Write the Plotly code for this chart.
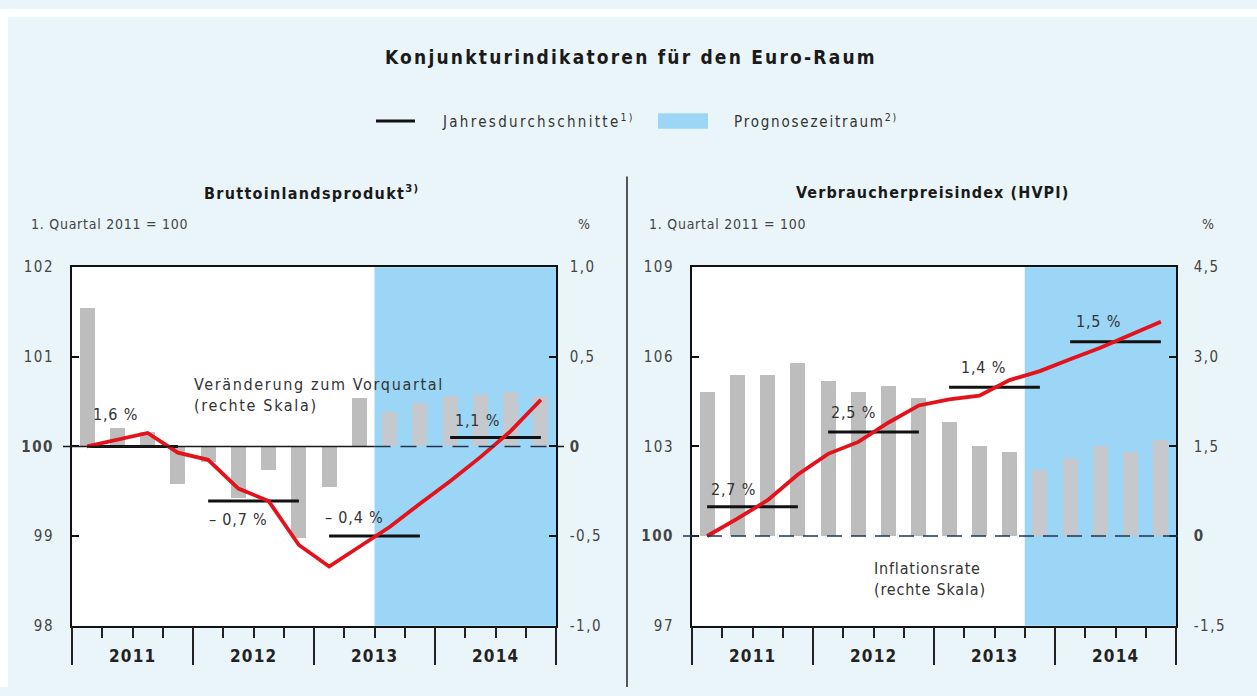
import plotly.graph_objects as go

W, H = 1257, 696


def px(x):
    return x / W


def py(y):
    return 1 - y / H


# ---------------- data ----------------
quarters = list(range(16))
years = ["2011", "2012", "2013", "2014"]

gdp_qoq = [0.77, 0.1, 0.08, -0.21, -0.09, -0.29, -0.13, -0.51, -0.23, 0.27,
           0.19, 0.24, 0.28, 0.29, 0.30, 0.28]
gdp_index = [100.0, 100.08, 100.15, 99.93, 99.85, 99.53, 99.39, 98.90, 98.66,
             98.88, 99.10, 99.36, 99.61, 99.88, 100.17, 100.52]
gdp_avg = [100.0, 99.39, 99.0, 100.1]
gdp_avg_labels = ["1,6 %", "– 0,7 %", "– 0,4 %", "1,1 %"]
gdp_forecast_start = 10

hicp_rate = [2.4, 2.7, 2.7, 2.9, 2.6, 2.4, 2.5, 2.3, 1.9, 1.5, 1.4, 1.1,
             1.3, 1.5, 1.4, 1.6]
hicp_index = [100.0, 100.58, 101.2, 102.06, 102.75, 103.15, 103.8, 104.37,
              104.57, 104.7, 105.22, 105.52, 105.92, 106.3, 106.74, 107.17]
hicp_avg = [100.98, 103.48, 104.98, 106.5]
hicp_avg_labels = ["2,7 %", "2,5 %", "1,4 %", "1,5 %"]
hicp_forecast_start = 11

gdp_left_ticks = [98, 99, 100, 101, 102]
gdp_right_ticks = [-1.0, -0.5, 0, 0.5, 1.0]
gdp_right_text = ["-1,0", "-0,5", "0", "0,5", "1,0"]
hicp_left_ticks = [97, 100, 103, 106, 109]
hicp_right_ticks = [-1.5, 0, 1.5, 3.0, 4.5]
hicp_right_text = ["-1,5", "0", "1,5", "3,0", "4,5"]

# ---------------- style ----------------
FONT = "Liberation Sans Narrow, DejaVu Sans Condensed, Liberation Sans, Arial, sans-serif"
BG = "#eaf5fa"
BLUE = "#9bd6f7"
GREY = "#bdbdbd"
GREY_FC = "#c5c8cc"
RED = "#e3121b"
TXT = "#333333"


def sp(t, ls=1.5):
    return f'<span style="letter-spacing:{ls}px">{t}</span>'


def tick_text(t, ls=1.5):
    s = sp(t, ls)
    if t in ("100", "0"):
        s = f"<b>{s}</b>"
    return s


fig = go.Figure()

panels = [
    dict(xa="x", ya_pct="y", ya_idx="y2", rate=gdp_qoq, index=gdp_index,
         avg=gdp_avg, labels=gdp_avg_labels, fc=gdp_forecast_start),
    dict(xa="x2", ya_pct="y3", ya_idx="y4", rate=hicp_rate, index=hicp_index,
         avg=hicp_avg, labels=hicp_avg_labels, fc=hicp_forecast_start),
]

for p in panels:
    colors = [GREY if q < p["fc"] else GREY_FC for q in quarters]
    fig.add_trace(go.Bar(x=quarters, y=p["rate"], xaxis=p["xa"], yaxis=p["ya_pct"],
                         width=0.5, marker=dict(color=colors, line=dict(width=0)),
                         showlegend=False, hoverinfo="skip"))
    for k, v in enumerate(p["avg"]):
        fig.add_trace(go.Scatter(x=[4 * k, 4 * k + 3], y=[v, v], xaxis=p["xa"],
                                 yaxis=p["ya_idx"], mode="lines",
                                 line=dict(color="#111111", width=3),
                                 showlegend=False, hoverinfo="skip"))
    fig.add_trace(go.Scatter(x=quarters, y=p["index"], xaxis=p["xa"], yaxis=p["ya_idx"],
                             mode="lines", line=dict(color=RED, width=3.8),
                             showlegend=False, hoverinfo="skip"))

# ---------------- axes ----------------
ydom = [py(633), py(265)]
tickfont = dict(family=FONT, size=15, color="#444444")


def xaxis_cfg(dom, anchor):
    return dict(domain=dom, anchor=anchor, range=[-0.5, 15.5], showline=True,
                mirror=True, linecolor="#111111", linewidth=1.5, showgrid=False,
                zeroline=False, ticks="outside", tickvals=[-0.5, 3.5, 7.5, 11.5, 15.5],
                ticklen=38, tickwidth=1.5, tickcolor="#222222", showticklabels=False,
                minor=dict(tickvals=[q + 0.5 for q in range(-1, 16)], ticks="outside",
                           ticklen=11, tickwidth=1.5, tickcolor="#222222"),
                fixedrange=True)


def ypct_cfg(anchor, rng, vals, text, standoff):
    return dict(domain=ydom, anchor=anchor, side="right", range=rng, tickvals=vals,
                ticktext=[tick_text(t, 1.5) for t in text], ticks="inside", ticklen=7,
                tickwidth=1.5, tickcolor="#111111", showline=True, mirror=True,
                linecolor="#111111", linewidth=1.5, showgrid=False, zeroline=False,
                tickfont=tickfont, ticklabelstandoff=standoff, fixedrange=True)


def yidx_cfg(overlay, anchor, rng, vals, standoff):
    return dict(overlaying=overlay, anchor=anchor, side="left", range=rng,
                tickvals=vals, ticktext=[tick_text(str(v), 1.5) for v in vals],
                ticks="inside", ticklen=7, tickwidth=1.5, tickcolor="#111111",
                showline=False, showgrid=False, zeroline=False, tickfont=tickfont,
                ticklabelstandoff=standoff, fixedrange=True)


fig.update_layout(
    xaxis=xaxis_cfg([px(72), px(556)], "y"),
    yaxis=ypct_cfg("x", [-1, 1], gdp_right_ticks, gdp_right_text, 9),
    yaxis2=yidx_cfg("y", "x", [98, 102], gdp_left_ticks, 17),
    xaxis2=xaxis_cfg([px(692), px(1176)], "y3"),
    yaxis3=ypct_cfg("x2", [-1.5, 4.5], hicp_right_ticks, hicp_right_text, 13),
    yaxis4=yidx_cfg("y3", "x2", [97, 109], hicp_left_ticks, 17),
)

# ---------------- shapes ----------------
shapes = [
    # white outer frame strip
    dict(type="rect", xref="paper", yref="paper", x0=0, x1=1, y0=py(8), y1=1,
         fillcolor="white", line=dict(width=0), layer="below"),
    dict(type="rect", xref="paper", yref="paper", x0=0, x1=px(8), y0=0, y1=1,
         fillcolor="white", line=dict(width=0), layer="below"),
    # separator
    dict(type="line", xref="paper", yref="paper", x0=px(627), x1=px(627),
         y0=py(172), y1=0, line=dict(color="#222222", width=1.5)),
    # legend symbols
    dict(type="line", xref="paper", yref="paper", x0=px(376), x1=px(415),
         y0=py(115), y1=py(115), line=dict(color="#111111", width=3)),
    dict(type="rect", xref="paper", yref="paper", x0=px(658), x1=px(708),
         y0=py(123), y1=py(107), fillcolor=BLUE, line=dict(width=0)),
    # forecast areas
    dict(type="rect", xref="x", yref="y domain", x0=gdp_forecast_start - 0.5, x1=15.5,
         y0=0, y1=1, fillcolor=BLUE, line=dict(width=0), layer="below"),
    dict(type="rect", xref="x2", yref="y3 domain", x0=hicp_forecast_start - 0.5, x1=15.5,
         y0=0, y1=1, fillcolor=BLUE, line=dict(width=0), layer="below"),
    # zero line left panel: solid in history, dashed in forecast
    dict(type="line", xref="x", yref="y", x0=-0.5, x1=gdp_forecast_start - 0.5,
         y0=0, y1=0, line=dict(color="#1a1a1a", width=1.5)),
    dict(type="line", xref="x", yref="y", x0=gdp_forecast_start - 0.5, x1=15.5,
         y0=0, y1=0, line=dict(color="#1f3550", width=1.5, dash="16px,10px")),
    dict(type="line", xref="paper", yref="y", x0=px(63), x1=px(72), y0=0, y1=0,
         line=dict(color="#1a1a1a", width=1.5)),
    dict(type="line", xref="paper", yref="y", x0=px(556), x1=px(564), y0=0, y1=0,
         line=dict(color="#1a1a1a", width=1.5)),
    # zero line right panel: dashed
    dict(type="line", xref="paper", yref="y3", x0=px(683), x1=px(1184), y0=0, y1=0,
         line=dict(color="#1f3550", width=1.5, dash="15px,9px")),
]
fig.update_layout(shapes=shapes)

# ---------------- annotations ----------------
ann = []


def txt(x, y, t, size=15, xanchor="center", yanchor="middle", bold=False, color=TXT,
        ls=1.5, xref="paper", yref="paper", xshift=0, yshift=0, align="left"):
    s = sp(t, ls)
    if bold:
        s = f"<b>{s}</b>"
    ann.append(dict(x=x, y=y, xref=xref, yref=yref, text=s, showarrow=False,
                    xanchor=xanchor, yanchor=yanchor, xshift=xshift, yshift=yshift,
                    align=align, font=dict(family=FONT, size=size, color=color)))


txt(px(631), py(49), "Konjunkturindikatoren für den Euro-Raum", size=19, bold=True,
    color="#1a1a1a", ls=2.2)
txt(px(440), py(115), "Jahresdurchschnitte<sup>1)</sup>", size=15, xanchor="left", ls=2.3)
txt(px(732), py(115), "Prognosezeitraum<sup>2)</sup>", size=15, xanchor="left", ls=1.8)

txt(px(311), py(188), "Bruttoinlandsprodukt<sup>3)</sup>", size=16, bold=True,
    color="#1a1a1a", ls=1.3)
txt(px(932), py(188), "Verbraucherpreisindex (HVPI)", size=16, bold=True,
    color="#1a1a1a", ls=1.1)
txt(px(29), py(221), "1. Quartal 2011 = 100", size=14, xanchor="left", color="#444444", ls=0.75)
txt(px(647), py(221), "1. Quartal 2011 = 100", size=14, xanchor="left", color="#444444", ls=0.75)
txt(px(584), py(221), "%", size=14, xanchor="center", color="#444444")
txt(px(1208), py(221), "%", size=14, xanchor="center", color="#444444")

txt(px(192), py(396), "Veränderung zum Vorquartal<br>(rechte Skala)", size=16,
    xanchor="left", ls=1.65)
txt(px(872), py(585), "Inflationsrate<br>(rechte Skala)", size=16, xanchor="left", ls=0.8)

# year labels
for xa in ["x", "x2"]:
    for k, yr in enumerate(years):
        txt(4 * k + 1.5, py(664), yr, size=17, bold=True, color="#222222", ls=1.2,
            xref=xa)

# annual average labels (offsets relative to line centre, pixels)
gdp_lab_shift = [(-17, 32), (-15, -18), (-20, 19), (-18, 17)]
hicp_lab_shift = [(-19, 17), (-20, 20), (-11, 20), (-17, 20)]
for k in range(4):
    dx, dy = gdp_lab_shift[k]
    txt(4 * k + 1.5, gdp_avg[k], gdp_avg_labels[k], size=16, xref="x", yref="y2",
        xshift=dx, yshift=dy, ls=0.8)
    dx, dy = hicp_lab_shift[k]
    txt(4 * k + 1.5, hicp_avg[k], hicp_avg_labels[k], size=16, xref="x2", yref="y4",
        xshift=dx, yshift=dy, ls=0.8)

fig.update_layout(
    annotations=ann,
    width=W, height=H, margin=dict(l=0, r=0, t=0, b=0),
    paper_bgcolor=BG, plot_bgcolor="white",
    showlegend=False, bargap=0,
    font=dict(family=FONT, color=TXT),
)

fig.write_html(
    "out.html",
    config={"displayModeBar": False},
    post_script="document.body.style.margin='0';document.body.style.overflow='hidden';",
)
